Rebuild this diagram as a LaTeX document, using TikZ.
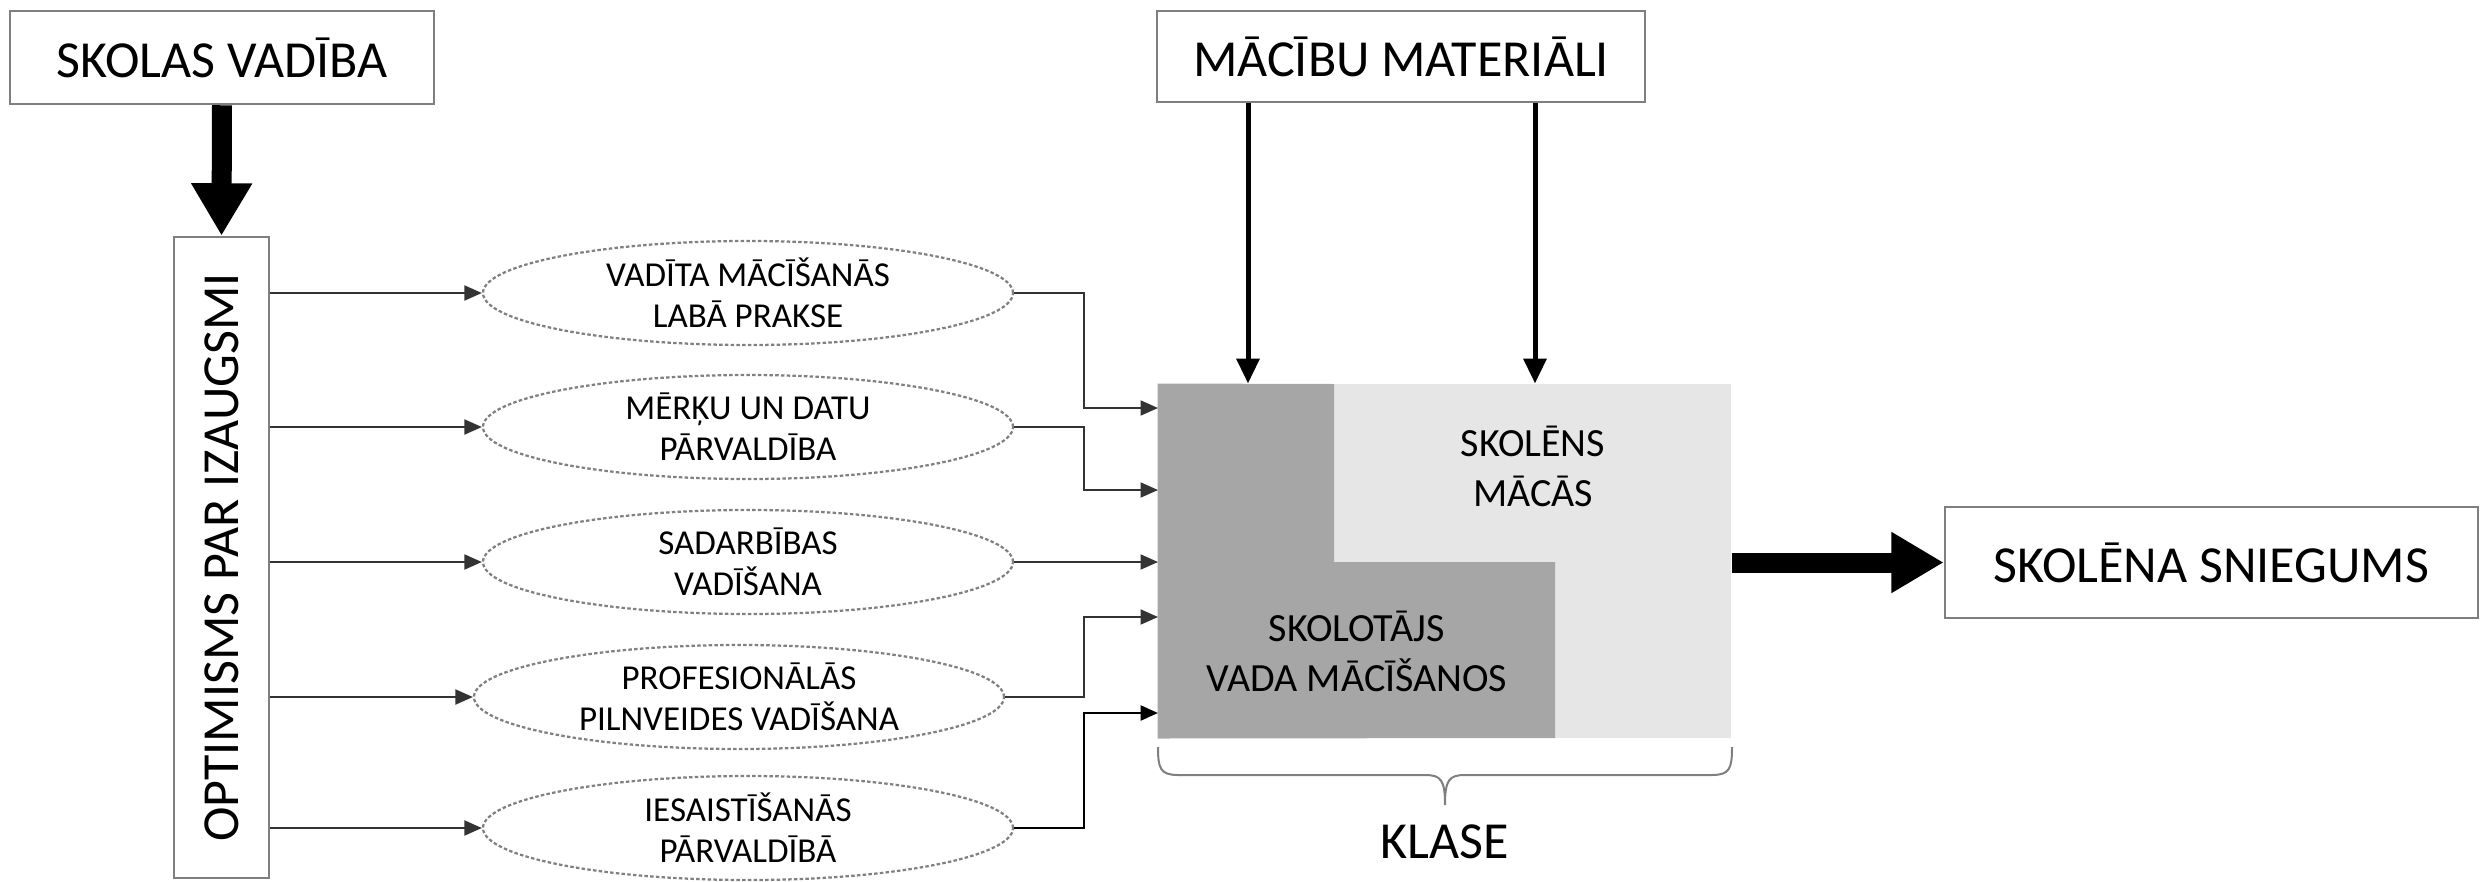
\documentclass[tikz,border=0pt]{standalone}
\usepackage{fontspec}
\setmainfont{Carlito}
\usetikzlibrary{shapes.geometric,arrows.meta}
\definecolor{linegray}{HTML}{7F7F7F}
\definecolor{darkfill}{HTML}{A6A6A6}
\definecolor{lightfill}{HTML}{E6E6E6}
\definecolor{dashgray}{HTML}{808080}
\definecolor{arrgray}{HTML}{333333}
\tikzset{
	bigfont/.style={font=\fontsize{20.8}{25}\selectfont},
	box/.style={draw=linegray, line width=1pt, inner sep=0pt, bigfont},
	oval/.style={ellipse, draw=dashgray, line width=0.9pt, dash pattern=on 1.4pt off 0.9pt, minimum width=212pt, minimum height=41.6pt, inner sep=0pt, align=center, font=\fontsize{14}{16.4}\selectfont},
	inner/.style={align=center, font=\fontsize{16}{20}\selectfont},
	thinarr/.style={draw=arrgray, line width=0.8pt, -{Triangle[length=7pt,width=6pt]}},
	matarr/.style={line width=2pt, -{Triangle[length=10pt,width=9pt]}},
	fatarr/.style={line width=8pt, -{Triangle[length=21pt,width=23pt]}}
}

\begin{document}
\begin{tikzpicture}[x=0.4pt, y=-0.4pt]
			\useasboundingbox (0,0) rectangle (2481,881);
			\node[box, minimum width=169.6pt, minimum height=37.2pt] (skolas) at (222,57.5) {SKOLAS VADĪBA};
			\node[box, minimum width=195.2pt, minimum height=36.4pt] (materiali) at (1401,56.5) {MĀCĪBU MATERIĀLI};
			\node[box, minimum width=38pt, minimum height=256.4pt] (optim) at (221.5,557.5) {};
			\node[rotate=90, bigfont] (optimtxt) at (optim) {OPTIMISMS PAR IZAUGSMI};
			\node[box, minimum width=213.2pt, minimum height=44.4pt] (sniegums) at (2211.5,562.5) {SKOLĒNA SNIEGUMS};
			\node[fill=lightfill, minimum width=229.2pt, minimum height=141.6pt, inner sep=0pt] (klase) at (1444.5,561) {};
			\fill[darkfill] (klase.north west) -- (1334,384) -- (1334,562) -- (1555,562) -- (1555,738) -- (klase.south west) -- cycle;
			\node[inner] (skolens) at (1533,466) {SKOLĒNS\\MĀCĀS};
			\node[inner] (skolotajs) at (1357,651) {SKOLOTĀJS\\VADA MĀCĪŠANOS};
			\node[oval] (e1) at (748,293) {VADĪTA MĀCĪŠANĀS\\LABĀ PRAKSE};
			\node[oval] (e2) at (748,427) {MĒRĶU UN DATU\\PĀRVALDĪBA};
			\node[oval] (e3) at (748,562) {SADARBĪBAS\\VADĪŠANA};
			\node[oval] (e4) at (739,697) {PROFESIONĀLĀS\\PILNVEIDES VADĪŠANA};
			\node[oval] (e5) at (748,828) {IESAISTĪŠANĀS\\PĀRVALDĪBĀ};
			\foreach \e in {e1,e2,e3,e4,e5}
				\draw[thinarr] (optim.east |- \e.west) -- (\e.west);
			\coordinate (bend) at (1084,0);
			\foreach \n/\y in {1/408,2/490,3/562,4/617,5/713}
				\coordinate (in\n) at (1158,\y);
			\draw[thinarr] (e1.east) -- (e1.east -| bend) |- (in1);
			\draw[thinarr] (e2.east) -- (e2.east -| bend) |- (in2);
			\draw[thinarr] (e3.east) -- (in3);
			\draw[thinarr] (e4.east) -- (e4.east -| bend) |- (in4);
			\draw[thinarr, draw=black, line width=1.1pt] (e5.east) -- (e5.east -| bend) |- (in5);
			\draw[matarr] (1248,0 |- materiali.south) -- (1248,0 |- klase.north);
			\draw[matarr] (1535,0 |- materiali.south) -- (1535,0 |- klase.north);
			\draw[fatarr] (skolas.south) -- (optim.north);
			\draw[fatarr] (klase.east |- sniegums.west) -- (sniegums.west);
			\coordinate (tip) at (1445,805);
			\draw[linegray, line width=0.8pt] (1158,747) .. controls (1158,768) and (1160,775) .. (1178,775) -- (1425,775) .. controls (1441,775) and (1445,780) .. (tip) .. controls (1445,780) and (1449,775) .. (1465,775) -- (1712,775) .. controls (1730,775) and (1732,768) .. (1732,747);
			\node[bigfont] (klasetxt) at (1445,842) {KLASE};
\end{tikzpicture}
\end{document}
